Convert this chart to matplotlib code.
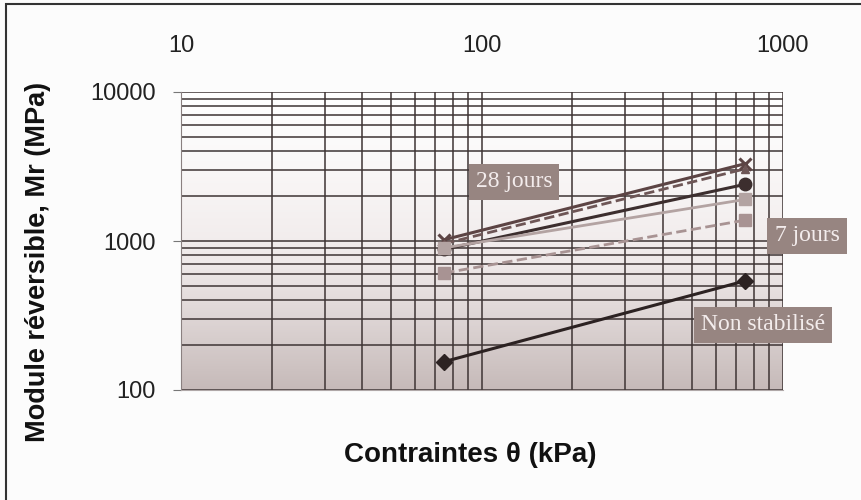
import matplotlib
matplotlib.use("Agg")
import matplotlib.pyplot as plt
from matplotlib.colors import LinearSegmentedColormap
from matplotlib.patches import Rectangle
from matplotlib.ticker import LogLocator, NullFormatter, FixedLocator
import numpy as np

# Stress levels (kPa) and resilient modulus (MPa) per curing condition
stress = [75, 750]
mr_28j_a = [1020, 3300]
mr_28j_b = [960, 3050]
mr_28j_c = [880, 2400]
mr_7j_a = [900, 1900]
mr_7j_b = [610, 1380]
mr_non_stab = [155, 540]

x_ticks = [10, 100, 1000]
y_ticks = [100, 1000, 10000]

fig = plt.figure(figsize=(8.62, 5.0), dpi=100)
fig.patch.set_facecolor("#fcfcfc")
rect = [0.21, 0.22, 0.698, 0.596]

# Soft white-to-taupe wash behind the grid
bg_ax = fig.add_axes(rect, zorder=0)
t = np.linspace(0.0, 1.0, 256) ** 1.25
grad = np.tile(t[:, None], (1, 4))
cmap = LinearSegmentedColormap.from_list("wash", ["#ffffff", "#efe9e9", "#c6bab9"])
bg_ax.imshow(grad, extent=(0, 1, 0, 1), origin="upper", cmap=cmap, aspect="auto")
bg_ax.set_axis_off()

ax = fig.add_axes(rect, zorder=1)
ax.patch.set_alpha(0.0)
ax.set_xscale("log")
ax.set_yscale("log")
ax.set_xlim(10, 1000)
ax.set_ylim(100, 10000)

ax.xaxis.set_major_locator(FixedLocator(x_ticks))
ax.yaxis.set_major_locator(FixedLocator(y_ticks))
ax.xaxis.set_minor_locator(LogLocator(base=10, subs=np.arange(2, 10)))
ax.yaxis.set_minor_locator(LogLocator(base=10, subs=np.arange(2, 10)))
ax.xaxis.set_minor_formatter(NullFormatter())
ax.yaxis.set_minor_formatter(NullFormatter())
ax.set_xticklabels([str(v) for v in x_ticks])
ax.set_yticklabels([str(v) for v in y_ticks])

grid_col = "#3e3434"
ax.grid(True, which="both", color=grid_col, lw=1.1)
ax.set_axisbelow(True)

ax.xaxis.set_ticks_position("top")
ax.xaxis.set_label_position("bottom")
ax.tick_params(axis="x", which="both", length=0, pad=25, labelsize=17)
ax.tick_params(axis="y", which="major", length=6, color="#777777", pad=12, labelsize=17)
ax.tick_params(axis="y", which="minor", length=0)
for lbl in ax.get_xticklabels() + ax.get_yticklabels():
    lbl.set_fontfamily("Liberation Sans")
    lbl.set_color("#222222")

for side in ["top", "right"]:
    ax.spines[side].set_visible(False)
ax.spines["left"].set_color("#8a8080")
ax.spines["bottom"].set_color("#b0a8a8")

# 28-day curing
ax.plot(stress, mr_28j_a, color="#5c4444", lw=2.2, marker="x", ms=8, mew=2.2, zorder=3)
ax.plot(stress, mr_28j_b, color="#6e5656", lw=2.0, ls="--", marker="^", ms=6, zorder=3)
ax.plot(stress, mr_28j_c, color="#3c2e2e", lw=2.2, marker="o", ms=9, zorder=3)
# 7-day curing
ax.plot(stress, mr_7j_a, color="#b3a3a2", lw=2.0, marker="s", ms=8, zorder=3)
ax.plot(stress, mr_7j_b, color="#a89393", lw=2.0, ls="--", marker="s", ms=9, zorder=3)
# untreated
ax.plot(stress, mr_non_stab, color="#2c2222", lw=2.2, marker="D", ms=8, zorder=3)

box = dict(facecolor="#978581", edgecolor="none", boxstyle="square,pad=0.3")
label_kw = dict(fontsize=17, color="#f3ecec", family="Liberation Serif",
                ha="center", va="center", bbox=box, transform=fig.transFigure, zorder=5)
fig.text(514 / 862, 1 - 182 / 500, "28 jours", **label_kw)
fig.text(807 / 862, 1 - 236 / 500, "7 jours", **label_kw)
fig.text(763 / 862, 1 - 325 / 500, "Non stabilisé", **label_kw)

fig.text(38 / 862, 1 - 262 / 500, "Module réversible, Mr (MPa)", rotation=90,
         ha="center", va="center", fontsize=19.5, fontweight="bold",
         family="Liberation Sans", color="#111111")
fig.text(470 / 862, 1 - 455 / 500, "Contraintes \u03b8 (kPa)", ha="center", va="center",
         fontsize=20, fontweight="bold", family="Liberation Sans", color="#111111")

# outer frame
fig.add_artist(Rectangle((6 / 862, -0.02), 1.05, 1 - 4 / 500 + 0.02, transform=fig.transFigure,
                         fill=False, edgecolor="#333333", lw=1.5))

fig.savefig("out.png", dpi=100, facecolor=fig.get_facecolor())
